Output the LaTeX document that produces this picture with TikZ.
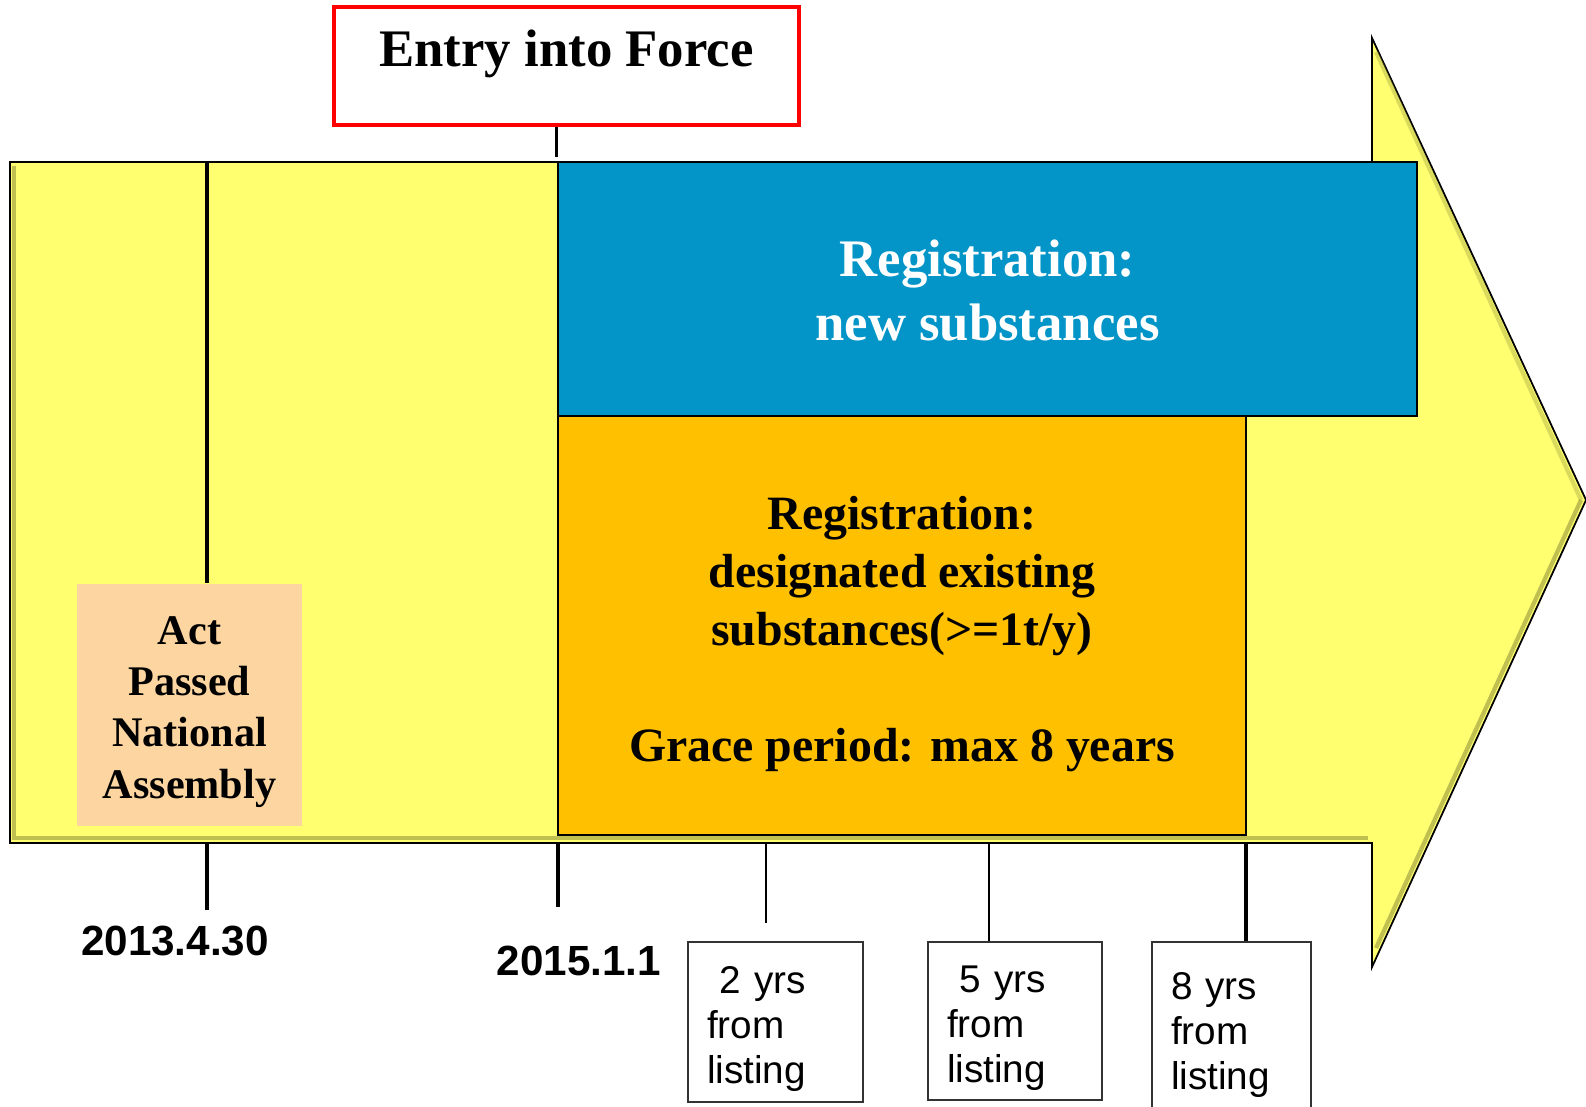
\documentclass[tikz,border=0pt]{standalone}
\usepackage{fontspec}
\setmainfont{Liberation Serif}
\setsansfont{Liberation Sans}
\definecolor{arrowyellow}{RGB}{255,255,112}
\definecolor{regblue}{RGB}{3,148,200}
\definecolor{regorange}{RGB}{255,192,0}
\definecolor{actpeach}{RGB}{252,213,160}
\definecolor{bevelolive}{RGB}{150,150,60}

\begin{document}
\begin{tikzpicture}[x=0.01cm, y=-0.01cm]
        \useasboundingbox (0,0) rectangle (1586,1106);
        \tikzstyle{every node}=[rectangle, inner sep=0pt, text=black]
        \tikzstyle{tick}=[black, line width=0.9pt]
        \tikzstyle{thintick}=[black, line width=0.6pt]
        \tikzstyle{bevel}=[bevelolive, line width=1.2pt, opacity=0.6]
        \tikzstyle{yrsbox}=[draw=black!80, line width=0.6pt, anchor=north west, align=left, inner xsep=0.19cm, font=\sffamily\fontsize{11}{12.8}\selectfont]
        \tikzstyle{date}=[font=\sffamily\bfseries\fontsize{12}{14}\selectfont]

        % timeline arrow
        \draw[fill=arrowyellow, line width=0.5pt] (10,162) -- (1372,162) -- (1372,38) -- (1586,500) -- (1372,967) -- (1372,843) -- (10,843) -- cycle;
        \draw[bevel] (14,166) -- (14,838) -- (1368,838);
        \draw[bevel] (1581,500) -- (1376,948);
        \draw[bevel, opacity=0.35] (1376,52) -- (1581,500);

        \node[fill=regblue, draw=black, line width=0.6pt, minimum width=8.59cm, minimum height=2.54cm, text=white, font=\bfseries\fontsize{15}{18.2}\selectfont] (blue) at (987.5,289)
              {\begin{tabular}{c} \rule{0pt}{16.7pt}Registration: \\ new substances \end{tabular}};
        \node[fill=regorange, draw=black, line width=0.6pt, minimum width=6.88cm, minimum height=4.19cm, font=\bfseries\fontsize{13.6}{16.5}\selectfont] (orange) at (902,625.5)
              {\begin{tabular}{c} \rule{0pt}{16.1pt}Registration: \\ designated existing \\ substances(>=1t/y) \\ \\ Grace period: max 8 years \end{tabular}};
        \node[fill=actpeach, minimum width=2.25cm, minimum height=2.42cm, font=\bfseries\fontsize{12}{14.6}\selectfont] (act) at (189.5,705)
              {\begin{tabular}{c} \rule{0pt}{13.6pt}Act \\ Passed \\ National \\ Assembly \end{tabular}};
        \node[draw=red, line width=1.1pt, minimum width=4.65cm, minimum height=1.18cm, text height=10pt, text depth=10pt, font=\bfseries\fontsize{15}{18}\selectfont] (entry) at (566.5,66) {Entry into Force};

        \node[date] (d13) at (175,941) {2013.4.30};
        \node[date] (d15) at (579,961) {2015.1.1};

        \node[yrsbox, text width=1.37cm, minimum height=1.60cm] (y2) at (687,941) {\rule{0pt}{11.4pt}\ 2 yrs \\ from \\ listing};
        \node[yrsbox, text width=1.36cm, minimum height=1.58cm] (y5) at (927,941) {\rule{0pt}{11.4pt}\ 5 yrs \\ from \\ listing};
        \node[yrsbox, text width=1.21cm, minimum height=1.72cm] (y8) at (1151,941) {\rule{0pt}{11.4pt}8 yrs \\ from \\ listing};

        \coordinate (t13top) at (207,162);
        \coordinate (t13) at (207,843);
        \coordinate (t13end) at (207,910);
        \coordinate (t15) at (558,843);
        \coordinate (t15end) at (558,907);
        \coordinate (t2) at (766,843);
        \coordinate (t2end) at (766,923);
        \coordinate (t5) at (989,843);
        \coordinate (t8) at (1246,843);

        \draw[tick] (t13top) -- (t13top |- act.north);
        \draw[tick] (t13) -- (t13end);
        \draw[tick] (blue.north west |- entry.south) -- ([yshift=1pt]blue.north west);
        \draw[tick] (t15) -- (t15end);
        \draw[thintick] (t2) -- (t2end);
        \draw[thintick] (t5) -- (t5 |- y5.north);
        \draw[tick] (t8) -- (t8 |- y8.north);
\end{tikzpicture}
\end{document}
